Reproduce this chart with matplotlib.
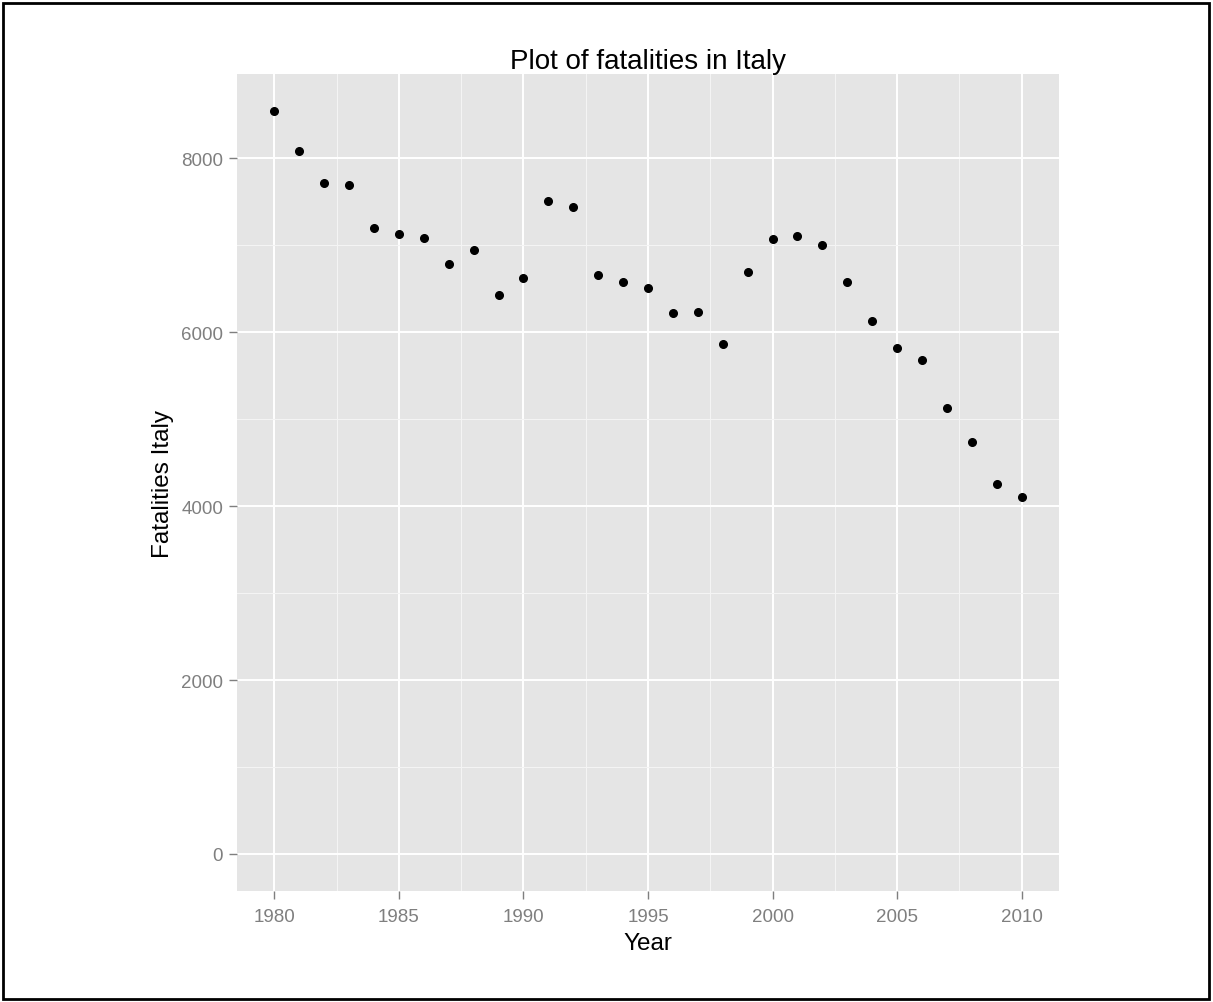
import matplotlib
matplotlib.use("Agg")
import matplotlib.pyplot as plt
from matplotlib.patches import Rectangle
from matplotlib.ticker import MultipleLocator

years = list(range(1980, 2011))
fatalities = [8544, 8080, 7712, 7689, 7205, 7136, 7090, 6791, 6952, 6426,
              6630, 7508, 7436, 6656, 6580, 6514, 6218, 6234, 5869, 6698,
              7070, 7110, 7009, 6583, 6134, 5823, 5685, 5132, 4740, 4257,
              4107]
y_ticks = [0, 2000, 4000, 6000, 8000]
x_ticks = [1980, 1985, 1990, 1995, 2000, 2005, 2010]

plt.rcParams['font.family'] = ['Liberation Sans', 'DejaVu Sans']

fig = plt.figure(figsize=(12.13, 10.03), dpi=100)
ax = fig.add_axes([237/1213, 1 - 892/1003, (1059-237)/1213, (892-75)/1003])
ax.set_facecolor('#E5E5E5')
for s in ax.spines.values():
    s.set_visible(False)

ax.set_xlim(1978.5, 2011.5)
ax.set_ylim(-427, 8971)
ax.set_xticks(x_ticks)
ax.set_yticks(y_ticks)
ax.xaxis.set_minor_locator(MultipleLocator(2.5))
ax.yaxis.set_minor_locator(MultipleLocator(1000))
ax.grid(which='major', color='white', linewidth=1.4)
ax.grid(which='minor', color='#F4F4F4', linewidth=0.8)
ax.set_axisbelow(True)
ax.tick_params(which='major', length=6, width=1, color='#7F7F7F',
               labelcolor='#7F7F7F', labelsize=13.5, pad=4)
ax.tick_params(axis='x', which='major', pad=6)
ax.tick_params(which='minor', length=0)

ax.plot(years, fatalities, 'o', color='black', markersize=5.5, zorder=3)

ax.set_title('Plot of fatalities in Italy', fontsize=20, pad=3)
ax.set_xlabel('Year', fontsize=17.5, labelpad=5)
ax.set_ylabel('Fatalities Italy', fontsize=17.5, labelpad=5)

fig.patches.append(Rectangle((3/1213, 3/1003), 1206/1213, 996/1003,
                             transform=fig.transFigure, fill=False,
                             edgecolor='black', linewidth=2))

fig.savefig('out.png', dpi=100)
